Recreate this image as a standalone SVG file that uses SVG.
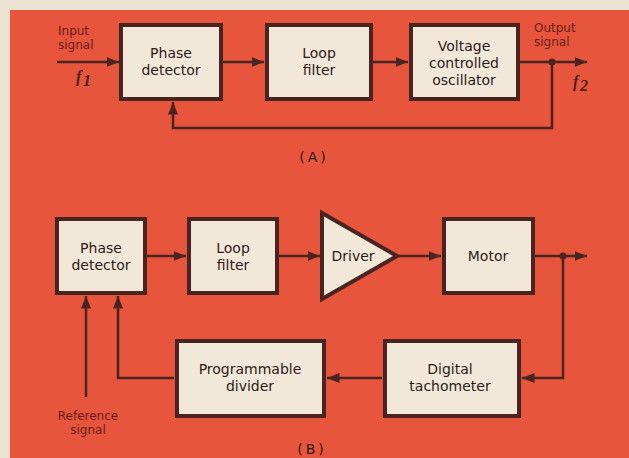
<svg xmlns="http://www.w3.org/2000/svg" width="629" height="458" viewBox="0 0 629 458">
<defs>
<style>
.box{fill:#F2E8DA;stroke:#4A2421;stroke-width:4}
.ln{fill:none;stroke:#4A2421;stroke-width:2.5}
.t{font-family:"DejaVu Sans","Open Sans",sans-serif;font-size:14px;fill:#2E1A18;text-anchor:middle}
.lb{font-family:"DejaVu Sans","Open Sans",sans-serif;font-size:12px;fill:#6A1E1A}
.f{font-family:"Liberation Serif",serif;font-style:italic;font-weight:bold;font-size:16px;fill:#4A2421}
</style>
<marker id="ah" viewBox="0 0 10 10" refX="10" refY="5" markerWidth="5" markerHeight="5" orient="auto" markerUnits="strokeWidth">
<path d="M0,1 L10,5 L0,9 z" fill="#4A2421"/>
</marker>
</defs>
<rect x="0" y="0" width="629" height="458" fill="#EDE3D3"/>
<rect x="10" y="10" width="619" height="448" fill="#E6553C"/>

<g id="connectors">
<path class="ln" d="M57,62 H119" marker-end="url(#ah)"/>
<path class="ln" d="M223,62 H264" marker-end="url(#ah)"/>
<path class="ln" d="M373,62 H408" marker-end="url(#ah)"/>
<path class="ln" d="M520,62 H587" marker-end="url(#ah)"/>
<path class="ln" d="M552,62 V128 H173 V102" marker-end="url(#ah)"/>
<circle cx="552" cy="62" r="3.5" fill="#4A2421"/>

<path class="ln" d="M147,256 H186" marker-end="url(#ah)"/>
<path class="ln" d="M279,256 H320" marker-end="url(#ah)"/>
<path class="ln" d="M398,256 H441" marker-end="url(#ah)"/>
<path class="ln" d="M535,256 H587" marker-end="url(#ah)"/>
<circle cx="563" cy="256" r="3.5" fill="#4A2421"/>
<path class="ln" d="M563,256 V378 H522" marker-end="url(#ah)"/>
<path class="ln" d="M382,378 H327" marker-end="url(#ah)"/>
<path class="ln" d="M174,378 H118 V296" marker-end="url(#ah)"/>
<path class="ln" d="M86,397 V296" marker-end="url(#ah)"/>
</g>

<g id="input-label">
<text class="lb" x="58" y="35">Input</text>
<text class="lb" x="58" y="49">signal</text>
<text class="f" x="76" y="82">f</text><text class="f" x="83" y="86" font-size="11">1</text>
</g>
<g id="output-label">
<text class="lb" x="534" y="32">Output</text>
<text class="lb" x="534" y="46">signal</text>
<text class="f" x="573" y="87">f</text><text class="f" x="580" y="91" font-size="11">2</text>
</g>

<g id="phase-detector-a">
<rect class="box" x="121" y="25" width="100" height="74"/>
<text class="t" x="171" y="58">Phase</text>
<text class="t" x="171" y="75">detector</text>
</g>
<g id="loop-filter-a">
<rect class="box" x="267" y="25" width="104" height="74"/>
<text class="t" x="319" y="58">Loop</text>
<text class="t" x="319" y="75">filter</text>
</g>
<g id="vco">
<rect class="box" x="411" y="25" width="107" height="74"/>
<text class="t" x="464" y="51">Voltage</text>
<text class="t" x="464" y="68">controlled</text>
<text class="t" x="464" y="85">oscillator</text>
</g>
<text class="t" x="314" y="162" font-size="12" letter-spacing="3">(A)</text>

<g id="phase-detector-b">
<rect class="box" x="57" y="219" width="88" height="74"/>
<text class="t" x="101" y="253">Phase</text>
<text class="t" x="101" y="270">detector</text>
</g>
<g id="loop-filter-b">
<rect class="box" x="189" y="219" width="88" height="74"/>
<text class="t" x="233" y="253">Loop</text>
<text class="t" x="233" y="270">filter</text>
</g>
<g id="driver">
<path class="box" d="M322,213 L397,256 L322,299 z"/>
<text class="t" x="353" y="261">Driver</text>
</g>
<g id="motor">
<rect class="box" x="444" y="219" width="89" height="74"/>
<text class="t" x="488" y="261">Motor</text>
</g>
<g id="digital-tachometer">
<rect class="box" x="385" y="341" width="134" height="75"/>
<text class="t" x="450" y="374">Digital</text>
<text class="t" x="450" y="391">tachometer</text>
</g>
<g id="programmable-divider">
<rect class="box" x="177" y="341" width="147" height="75"/>
<text class="t" x="250" y="374">Programmable</text>
<text class="t" x="250" y="391">divider</text>
</g>
<g id="reference-label">
<text class="lb" x="88" y="420" text-anchor="middle">Reference</text>
<text class="lb" x="88" y="434" text-anchor="middle">signal</text>
</g>
<text class="t" x="312" y="454" font-size="12" letter-spacing="3">(B)</text>
</svg>
